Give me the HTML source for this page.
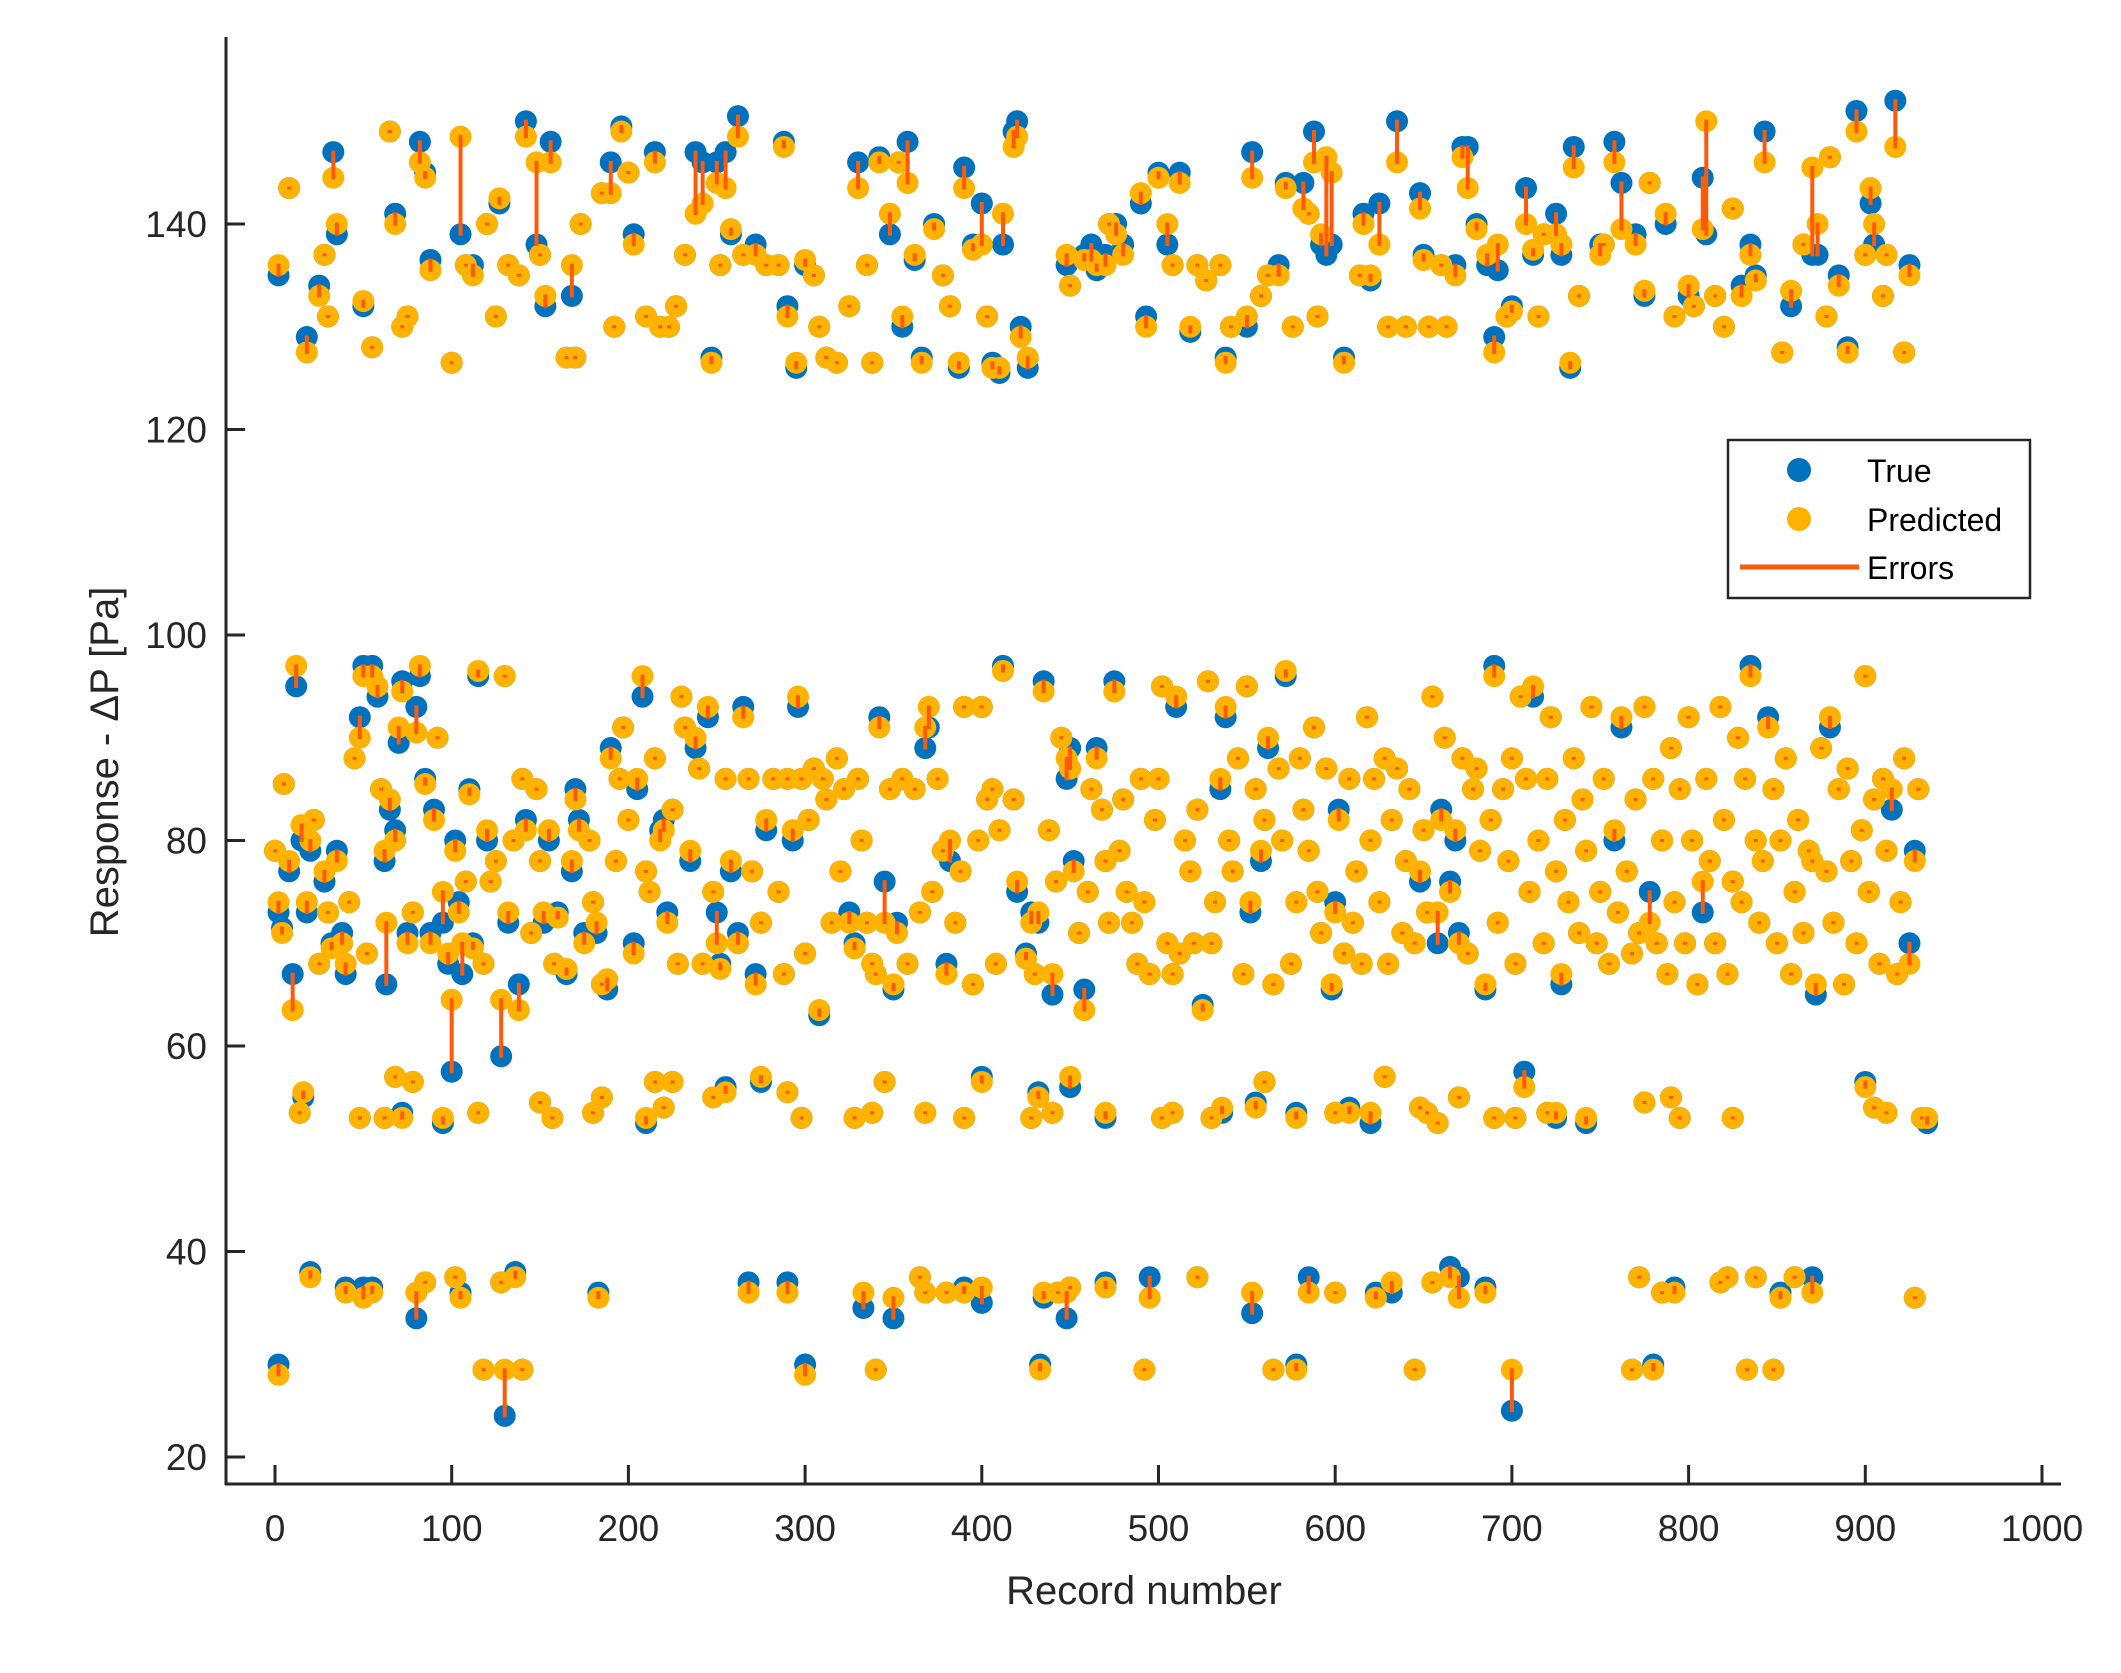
<!DOCTYPE html>
<html><head><meta charset="utf-8">
<style>
html,body{margin:0;padding:0;background:#fff;}
svg{display:block;}
text{font-family:"Liberation Sans",Arial,sans-serif;fill:#262626;}
</style></head>
<body>
<svg id="chart" width="2121" height="1673" viewBox="0 0 2121 1673" xmlns="http://www.w3.org/2000/svg">
<rect width="2121" height="1673" fill="#fff"/>
<g id="marks-true"></g>
<g id="marks-pred"></g>
<g id="marks-err"></g>
<g id="axes"></g>
<text x="1144" y="1604" font-size="40" text-anchor="middle">Record number</text>
<text transform="translate(118,762) rotate(-90)" font-size="40" text-anchor="middle">Response - ΔP [Pa]</text>
<g>
<rect x="1728" y="440" width="302" height="158" fill="#fff" stroke="#262626" stroke-width="2.5"/>
<g><circle cx="1799" cy="470" r="12" fill="#0072BD"/><text x="1867" y="482" font-size="32" style="fill:#000">True</text></g>
<g><circle cx="1799" cy="519" r="12" fill="#FFB300"/><text x="1867" y="531" font-size="32" style="fill:#000">Predicted</text></g>
<g><line x1="1740" y1="567" x2="1859" y2="567" stroke="#FF5A0A" stroke-width="5"/><text x="1867" y="579" font-size="32" style="fill:#000">Errors</text></g>
</g>
</svg>
<script>
const xTicks = [0,100,200,300,400,500,600,700,800,900,1000];
const yTicks = [20,40,60,80,100,120,140];
// [record, true, predicted]
const topBand = [[2,135,136],[8,143.5,143.5],[18,129,127.5],[25,134,133],[28,137,137],[30,131,131],[33,147,144.5],[35,139,140],[50,132,132.5],[55,128,128],[65,149,149],[68,141,140],[72,130,130],[75,131,131],[82,148,146],[85,145,144.5],[88,136.5,135.5],[100,126.5,126.5],[105,139,148.5],[108,136,136],[112,136,135],[120,140,140],[125,131,131],[127,142,142.5],[132,136,136],[138,135,135],[142,150,148.5],[148,138,146],[150,137,137],[153,132,133],[156,148,146],[165,127,127],[168,133,136],[170,127,127],[173,140,140],[185,143,143],[190,146,143],[192,130,130],[196,149.5,149],[200,145,145],[203,139,138],[210,131,131],[215,147,146],[218,130,130],[223,130,130],[227,132,132],[232,137,137],[238,147,141],[242,146,142],[247,127,126.5],[250,146,144],[252,136,136],[255,147,143.5],[258,139,139.5],[262,150.5,148.5],[265,137,137],[272,138,137],[278,136,136],[285,136,136],[288,148,147.5],[290,132,131],[295,126,126.5],[300,136,136.5],[305,135,135],[308,130,130],[312,127,127],[318,126.5,126.5],[325,132,132],[330,146,143.5],[335,136,136],[338,126.5,126.5],[342,146.5,146],[348,139,141],[353,146,146],[355,130,131],[358,148,144],[362,136.5,137],[366,127,126.5],[373,140,139.5],[378,135,135],[382,132,132],[387,126,126.5],[390,145.5,143.5],[395,138,137.5],[400,142,138],[403,131,131],[406,126.5,126],[410,125.5,126],[412,138,141],[418,149,147.5],[420,150,148.5],[422,130,129],[426,126,127],[448,136,137],[450,134,134],[458,137,136.5],[462,138,136.5],[465,135.5,136],[470,137,136],[472,140,140],[476,140,139],[480,138,137],[490,142,143],[493,131,130],[500,145,144.5],[505,138,140],[508,136,136],[512,145,144],[518,129.5,130],[522,136,136],[527,134.5,134.5],[535,136,136],[538,127,126.5],[541,130,130],[550,130,131],[553,147,144.5],[558,133,133],[562,135,135],[568,136,135],[572,144,143.5],[576,130,130],[582,144,141.5],[585,141,141],[588,149,146],[590,131,131],[592,138,139],[595,137,146.5],[598,138,145],[605,127,126.5],[614,135,135],[616,141,140],[620,134.5,135],[625,142,138],[630,130,130],[635,150,146],[640,130,130],[648,143,141.5],[650,137,136.5],[653,130,130],[660,136,136],[663,130,130],[668,136,135],[672,147.5,146.5],[675,147.5,143.5],[680,140,139.5],[686,136,137],[690,129,127.5],[692,135.5,138],[697,131,131],[700,132,131.5],[708,143.5,140],[712,137,137.5],[715,131,131],[718,139,139],[725,141,139],[728,137,138],[733,126,126.5],[735,147.5,145.5],[738,133,133],[750,138,137],[752,138,138],[758,148,146],[762,144,139.5],[770,139,138],[775,133,133.5],[778,144,144],[787,140,141],[792,131,131],[800,133,134],[803,132,132],[808,144.5,139.5],[810,139,150],[815,133,133],[820,130,130],[825,141.5,141.5],[830,134,133],[835,138,137],[838,135,134.5],[843,149,146],[853,127.5,127.5],[858,132,133.5],[865,138,138],[870,137,145.5],[873,137,140],[878,131,131],[880,146.5,146.5],[885,135,134],[890,128,127.5],[895,151,149],[900,137,137],[903,142,143.5],[905,138,140],[910,133,133],[912,137,137],[917,152,147.5],[922,127.5,127.5],[925,136,135]];
const midBand = [[0,79,79],[2,73,74],[4,71.5,71],[5,85.5,85.5],[8,77,78],[10,67,63.5],[12,95,97],[15,80,81.5],[18,73,74],[20,79,80],[22,82,82],[25,68,68],[28,76,77],[30,73,73],[32,70,69.5],[35,79,78],[38,71,70],[40,67,68],[42,74,74],[45,88,88],[48,92,90],[50,97,96],[52,69,69],[55,97,96],[58,94,95],[60,85,85],[62,78,79],[63,66,72],[65,83,84],[68,81,80],[70,89.5,91],[72,95.5,94.5],[75,71,70],[78,73,73],[80,93,90.5],[82,96,97],[85,86,85.5],[88,71,70],[90,83,82],[92,90,90],[95,72,75],[98,68,69],[100,57.5,64.5],[102,80,79],[104,74,73],[106,67,70],[108,76,76],[110,85,84.5],[112,70,69.5],[115,96,96.5],[118,68,68],[120,80,81],[122,76,76],[125,78,78],[128,59,64.5],[130,96,96],[132,72,73],[135,80,80],[138,66,63.5],[140,86,86],[142,82,81],[145,71,71],[148,85,85],[150,78,78],[152,72,73],[155,80,81],[158,68,68],[160,73,72.5],[165,67,67.5],[168,77,78],[170,85,84],[172,82,81],[175,71,70],[178,80,80],[180,74,74],[182,71,72],[185,66,66],[188,65.5,66.5],[190,89,88],[193,78,78],[195,86,86],[197,91,91],[200,82,82],[203,70,69],[205,85,86],[208,94,96],[210,77,77],[212,75,75],[215,88,88],[218,81,80],[220,82,81],[222,73,72],[225,83,83],[228,68,68],[230,94,94],[232,91,91],[235,78,79],[238,89,90],[240,87,87],[242,68,68],[245,92,93],[248,75,75],[250,73,70],[252,68,67.5],[255,86,86],[258,77,78],[262,71,70],[265,93,92],[268,86,86],[270,77,77],[272,67,66],[275,72,72],[278,81,82],[282,86,86],[285,75,75],[288,67,67],[290,86,86],[293,80,81],[296,93,94],[298,86,86],[300,69,69],[302,82,82],[305,87,87],[308,63,63.5],[310,86,86],[312,84,84],[315,72,72],[318,88,88],[320,77,77],[322,85,85],[325,73,72],[328,70,69.5],[330,86,86],[332,80,80],[335,72,72],[338,68,68],[340,67,67],[342,92,91],[345,76,72],[348,85,85],[350,65.5,66],[352,72,71],[355,86,86],[358,68,68],[362,85,85],[365,73,73],[368,89,91],[370,91,93],[372,75,75],[375,86,86],[378,79,79],[380,68,67],[382,78,80],[385,72,72],[388,77,77],[390,93,93],[395,66,66],[398,80,80],[400,93,93],[403,84,84],[406,85,85],[408,68,68],[410,81,81],[412,97,96.5],[418,84,84],[420,75,76],[425,69,68.5],[428,73,72],[430,67,67],[432,72,73],[435,95.5,94.5],[438,81,81],[440,65,67],[442,76,76],[445,90,90],[448,86,88],[450,89,87],[452,78,77],[455,71,71],[458,65.5,63.5],[460,75,75],[462,85,85],[465,89,88],[468,83,83],[470,78,78],[472,72,72],[475,95.5,94.5],[478,79,79],[480,84,84],[482,75,75],[485,72,72],[488,68,68],[490,86,86],[492,74,74],[495,67,67],[498,82,82],[500,86,86],[502,95,95],[505,70,70],[508,67,67],[510,93,94],[512,69,69],[515,80,80],[518,77,77],[520,70,70],[522,83,83],[525,64,63.5],[528,95.5,95.5],[530,70,70],[532,74,74],[535,85,86],[538,92,93],[540,80,80],[542,77,77],[545,88,88],[548,67,67],[550,95,95],[552,73,74],[555,85,85],[558,78,79],[560,82,82],[562,89,90],[565,66,66],[568,87,87],[570,80,80],[572,96,96.5],[575,68,68],[578,74,74],[580,88,88],[582,83,83],[585,79,79],[588,91,91],[590,75,75],[592,71,71],[595,87,87],[598,65.5,66],[600,74,73],[602,83,82],[605,69,69],[608,86,86],[610,72,72],[612,77,77],[615,68,68],[618,92,92],[620,80,80],[622,86,86],[625,74,74],[628,88,88],[630,68,68],[632,82,82],[635,87,87],[638,71,71],[640,78,78],[642,85,85],[645,70,70],[648,76,77],[650,81,81],[652,73,73],[655,94,94],[658,70,73],[660,83,82],[662,90,90],[665,76,75],[668,80,81],[670,71,70],[672,88,88],[675,69,69],[678,85,85],[680,87,87],[682,79,79],[685,65.5,66],[688,82,82],[690,97,96],[692,72,72],[695,85,85],[698,78,78],[700,88,88],[702,68,68],[705,94,94],[708,86,86],[710,75,75],[712,94,95],[715,80,80],[718,70,70],[720,86,86],[722,92,92],[725,77,77],[728,66,67],[730,82,82],[732,74,74],[735,88,88],[738,71,71],[740,84,84],[742,79,79],[745,93,93],[748,70,70],[750,75,75],[752,86,86],[755,68,68],[758,80,81],[760,73,73],[762,91,92],[765,77,77],[768,69,69],[770,84,84],[772,71,71],[775,93,93],[778,75,72],[780,86,86],[782,70,70],[785,80,80],[788,67,67],[790,89,89],[792,74,74],[795,85,85],[798,70,70],[800,92,92],[802,80,80],[805,66,66],[808,73,76],[810,86,86],[812,78,78],[815,70,70],[818,93,93],[820,82,82],[822,67,67],[825,76,76],[828,90,90],[830,74,74],[832,86,86],[835,97,96],[838,80,80],[840,72,72],[842,78,78],[845,92,91],[848,85,85],[850,70,70],[852,80,80],[855,88,88],[858,67,67],[860,75,75],[862,82,82],[865,71,71],[868,79,79],[870,78,78],[872,65,66],[875,89,89],[878,77,77],[880,91,92],[882,72,72],[885,85,85],[888,66,66],[890,87,87],[892,78,78],[895,70,70],[898,81,81],[900,96,96],[902,75,75],[905,84,84],[908,68,68],[910,86,86],[912,79,79],[915,83,85],[918,67,67],[920,74,74],[922,88,88],[925,70,68],[928,79,78],[930,85,85]];
const lowBand = [[14,53.5,53.5],[16,55,55.5],[48,53,53],[62,53,53],[68,57,57],[72,53.5,53],[78,56.5,56.5],[95,52.5,53],[115,53.5,53.5],[150,54.5,54.5],[157,53,53],[180,53.5,53.5],[185,55,55],[210,52.5,53],[215,56.5,56.5],[220,54,54],[225,56.5,56.5],[248,55,55],[255,56,55.5],[275,56.5,57],[290,55.5,55.5],[298,53,53],[328,53,53],[338,53.5,53.5],[345,56.5,56.5],[368,53.5,53.5],[390,53,53],[400,57,56.5],[428,53,53],[432,55.5,55],[440,53.5,53.5],[450,56,57],[470,53,53.5],[502,53,53],[508,53.5,53.5],[530,53,53],[536,53.5,54],[555,54.5,54],[560,56.5,56.5],[578,53.5,53],[600,53.5,53.5],[608,54,53.5],[620,52.5,53.5],[628,57,57],[648,54,54],[652,53.5,53.5],[658,52.5,52.5],[670,55,55],[690,53,53],[702,53,53],[707,57.5,56],[720,53.5,53.5],[725,53,53.5],[742,52.5,53],[775,54.5,54.5],[790,55,55],[795,53,53],[825,53,53],[900,56.5,56],[905,54,54],[912,53.5,53.5],[932,53,53],[935,52.5,53]];
const bottomBand = [[2,29,28],[20,38,37.5],[40,36.5,36],[50,36.5,35.5],[55,36.5,36],[80,33.5,36],[85,37,37],[102,37.5,37.5],[105,36,35.5],[118,28.5,28.5],[128,37,37],[130,24,28.5],[136,38,37.5],[140,28.5,28.5],[183,36,35.5],[268,37,36],[290,37,36],[300,29,28],[333,34.5,36],[340,28.5,28.5],[350,33.5,35.5],[365,37.5,37.5],[368,36,36],[380,36,36],[390,36.5,36],[400,35,36.5],[433,29,28.5],[435,35.5,36],[443,36,36],[448,33.5,36],[450,36.5,36.5],[470,37,36.5],[492,28.5,28.5],[495,37.5,35.5],[522,37.5,37.5],[553,34,36],[565,28.5,28.5],[578,29,28.5],[585,37.5,36],[600,36,36],[623,36,35.5],[632,36,37],[645,28.5,28.5],[655,37,37],[665,38.5,37.5],[670,37.5,35.5],[685,36.5,36],[700,24.5,28.5],[768,28.5,28.5],[772,37.5,37.5],[780,29,28.5],[785,36,36],[792,36.5,36],[818,37,37],[822,37.5,37.5],[833,28.5,28.5],[838,37.5,37.5],[848,28.5,28.5],[852,36,35.5],[860,37.5,37.5],[870,37.5,36],[928,35.5,35.5]];

const NS = "http://www.w3.org/2000/svg";
const X0 = 275, XS = 1.767;   // px per record
const Y140 = 224, YS = 10.275; // px per Pa
function sx(v){ return X0 + v*XS; }
function sy(v){ return Y140 + (140 - v)*YS; }
function mk(tag, attrs, parent){
  const el = document.createElementNS(NS, tag);
  for (const k in attrs) el.setAttribute(k, attrs[k]);
  parent.appendChild(el);
  return el;
}
const gT = document.getElementById('marks-true');
const gP = document.getElementById('marks-pred');
const gE = document.getElementById('marks-err');
const allPts = topBand.concat(midBand, lowBand, bottomBand);
allPts.forEach(function(d){
  const c1 = mk('circle', {cx: sx(d[0]), cy: sy(d[1]), r: 11, fill: '#0072BD'}, gT);
  
  
});
allPts.forEach(function(d){
  const c2 = mk('circle', {cx: sx(d[0]), cy: sy(d[2]), r: 11, fill: '#FFB300'}, gP);
  
  
});
allPts.forEach(function(d){
  const y1 = Math.min(sy(d[1]), sy(d[2])), y2 = Math.max(sy(d[1]), sy(d[2]));
  const l = mk('rect', {x: sx(d[0]) - 2, y: y1 - 1.5, width: 4, height: (y2 - y1) + 3, fill: '#FF5A0A'}, gE);
  
  
});
const ax = document.getElementById('axes');
const yl = mk('line', {x1: 226, y1: 37, x2: 226, y2: 1485, stroke: '#262626', 'stroke-width': 3}, ax);


const xl = mk('line', {x1: 225, y1: 1484, x2: 2061, y2: 1484, stroke: '#262626', 'stroke-width': 3}, ax);


xTicks.forEach(function(t){
  const tk = mk('line', {x1: sx(t), y1: 1484, x2: sx(t), y2: 1465, stroke: '#262626', 'stroke-width': 3}, ax);
  
  
  const tx = mk('text', {x: sx(t), y: 1541, 'font-size': 37, 'text-anchor': 'middle'}, ax);
  tx.textContent = t;
  
  
});
yTicks.forEach(function(t){
  const tk = mk('line', {x1: 226, y1: sy(t), x2: 245, y2: sy(t), stroke: '#262626', 'stroke-width': 3}, ax);
  
  
  const tx = mk('text', {x: 207, y: sy(t) + 13, 'font-size': 37, 'text-anchor': 'end'}, ax);
  tx.textContent = t;
  
  
});
</script>
</body></html>
